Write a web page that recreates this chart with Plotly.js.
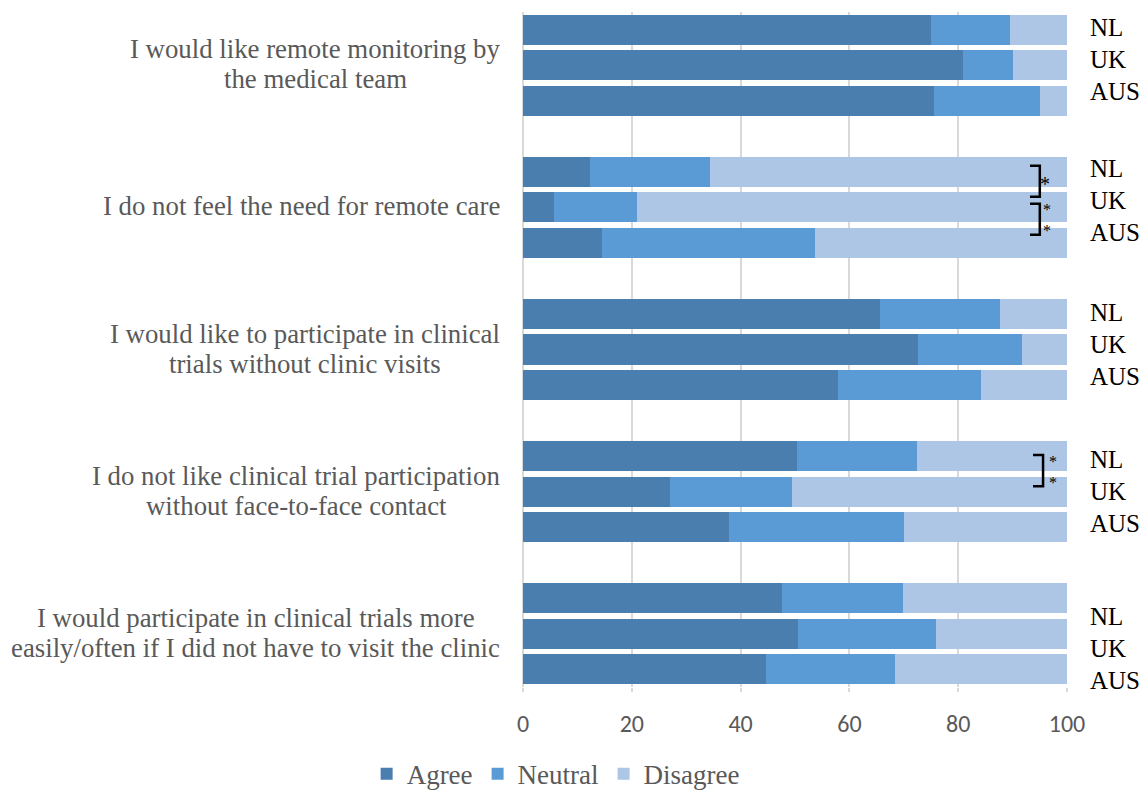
<!DOCTYPE html>
<html>
<head>
<meta charset="utf-8">
<script src="https://cdn.plot.ly/plotly-3.0.1.min.js"></script>
<style>html,body{margin:0;padding:0;background:#fff;}#chart{width:1148px;height:790px;}</style>
</head>
<body>
<div id="chart"></div>
<script>
// ---- data ----
const statements = [
  "I would like remote monitoring by<br>the medical team",
  "I do not feel the need for remote care",
  "I would like to participate in clinical<br>trials without clinic visits",
  "I do not like clinical trial participation<br>without face-to-face contact",
  "I would participate in clinical trials more<br>easily/often if I did not have to visit the clinic"
];
const countries = ["NL", "UK", "AUS"];
// values per statement, in country order NL, UK, AUS
const agree = [
  [75.0, 80.8, 75.6],
  [12.3, 5.7, 14.6],
  [65.6, 72.6, 57.9],
  [50.3, 27.0, 37.8],
  [47.7, 50.5, 44.7]
];
const neutral = [
  [14.6, 9.2, 19.5],
  [22.0, 15.2, 39.0],
  [22.1, 19.1, 26.3],
  [22.2, 22.5, 32.3],
  [22.2, 25.4, 23.7]
];
const disagree = [
  [10.4, 10.0, 4.9],
  [65.7, 79.1, 46.4],
  [12.3, 8.3, 15.8],
  [27.5, 50.5, 29.9],
  [30.1, 24.1, 31.6]
];
const seriesNames = ["Agree", "Neutral", "Disagree"];
const xTicks = [0, 20, 40, 60, 80, 100];
// significance markers: [statement index, first country index, second country index, label]
const significance = [
  [1, 0, 1, "*"],
  [1, 1, 2, "*<br>*"],
  [3, 0, 1, "*<br>*"]
];

// ---- layout helpers ----
const colors = ["#4A7EAF", "#5B9BD5", "#ADC6E6"];
const slotsPerGroup = countries.length + 1;
function pos(g, c) { return g * slotsPerGroup + c; }

const allSeries = [agree, neutral, disagree];
const traces = allSeries.map((ser, si) => {
  const xs = [], ys = [];
  ser.forEach((row, g) => row.forEach((v, c) => { xs.push(v); ys.push(pos(g, c)); }));
  return {
    type: "bar", orientation: "h", name: seriesNames[si],
    x: xs, y: ys, width: 0.845,
    marker: { color: colors[si], line: { width: 0 } },
    hoverinfo: "x+name"
  };
});

const serif = "Liberation Serif, Times New Roman, serif";
const W = 1148, ML = 523, MR = 81;
const plotW = W - ML - MR;
const labelFontSize = 26.8;
const canvas = document.createElement("canvas");
const ctx = canvas.getContext("2d");
ctx.font = labelFontSize + "px 'Liberation Serif'";
const annotations = [];
const labelRight = 500; // right edge of the statement text block
statements.forEach((s, g) => {
  const lines = s.split("<br>");
  const maxW = Math.max(...lines.map(l => ctx.measureText(l).width));
  const centerPx = labelRight - maxW / 2;
  const xPaper = (centerPx - ML) / plotW;
  lines.forEach((ln, li) => {
    annotations.push({
      xref: "paper", yref: "y", x: xPaper, y: pos(g, 1),
      xanchor: "center", yanchor: "middle", align: "center",
      yshift: -((li - (lines.length - 1) / 2) * 30) + 1,
      text: ln, showarrow: false,
      font: { family: serif, size: labelFontSize, color: "#595959" }
    });
  });
});
const groupShift = [-6, -7, -5, 0, 15];
statements.forEach((s, g) => {
  countries.forEach((cn, c) => {
    annotations.push({
      xref: "paper", yref: "y", x: (1088 - ML) / plotW, y: pos(g, c),
      xanchor: "left", yanchor: "middle", text: cn, showarrow: false,
      yshift: -(groupShift[g] + (c - 1) * -3.5),
      font: { family: serif, size: 25, color: "#000000" }
    });
  });
});

// bracket geometry offsets (fraction of a bar slot) per marker
const bracketGeom = [
  { x0: 93.2, x1: 95.0, da: -0.17, db: -0.30, sx: 95.9 },
  { x0: 93.2, x1: 95.0, da: -0.10, db: -0.23, sx: 96.4 },
  { x0: 93.75, x1: 95.6, da: -0.03, db: -0.15, sx: 97.4 }
];
const shapes = [];
significance.forEach(([g, a, b, lbl], i) => {
  const bg = bracketGeom[i];
  const y0 = pos(g, a) + bg.da, y1 = pos(g, b) + bg.db;
  const path = `M ${bg.x0} ${y0} L ${bg.x1} ${y0} L ${bg.x1} ${y1} L ${bg.x0} ${y1}`;
  shapes.push({ type: "path", xref: "x", yref: "y", path: path,
    line: { color: "#000000", width: 2.5 } });
  const single = lbl === "*";
  annotations.push({
    xref: "x", yref: "y", x: bg.sx, y: (y0 + y1) / 2,
    xanchor: "center", yanchor: "middle", text: lbl, showarrow: false,
    yshift: single ? -3 : -1,
    font: { family: serif, size: single ? 20 : 16, color: "#000000" }
  });
});

const layout = {
  width: 1148, height: 790,
  margin: { l: ML, r: MR, t: 12, b: 103 },
  paper_bgcolor: "#ffffff", plot_bgcolor: "#ffffff",
  barmode: "stack", bargap: 0,
  showlegend: true,
  legend: {
    orientation: "h", xref: "container", yref: "container",
    x: 0.484, xanchor: "center", y: 0.02, yanchor: "middle",
    font: { family: serif, size: 27, color: "#595959" },
    traceorder: "normal", itemwidth: 20
  },
  xaxis: {
    range: [0, 100], tickvals: xTicks, ticktext: xTicks.map(String),
    showgrid: true, gridcolor: "#d9d9d9", gridwidth: 2,
    zeroline: true, zerolinecolor: "#d9d9d9", zerolinewidth: 2,
    showline: false, ticks: "outside", ticklen: 4, tickwidth: 2, tickcolor: "#d9d9d9",
    ticklabelstandoff: 11,
    tickfont: { family: "Carlito, Lato, Noto Sans, sans-serif", size: 24, color: "#595959" },
    fixedrange: true
  },
  yaxis: {
    range: [slotsPerGroup * statements.length - 1.5, -0.5],
    showticklabels: false, showgrid: false, zeroline: false, showline: false,
    fixedrange: true
  },
  annotations: annotations,
  shapes: shapes
};

Plotly.newPlot("chart", traces, layout, { displayModeBar: false, staticPlot: true });
</script>
</body>
</html>
